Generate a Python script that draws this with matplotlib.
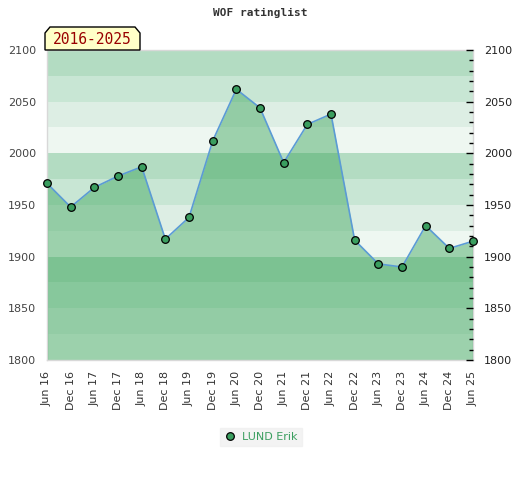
import matplotlib
matplotlib.use("Agg")
import matplotlib.pyplot as plt
from matplotlib.patches import Polygon
import numpy as np

labels = ["Jun 16", "Dec 16", "Jun 17", "Dec 17", "Jun 18", "Dec 18", "Jun 19",
          "Dec 19", "Jun 20", "Dec 20", "Jun 21", "Dec 21", "Jun 22", "Dec 22",
          "Jun 23", "Dec 23", "Jun 24", "Dec 24", "Jun 25"]
ratings = [1971, 1948, 1967, 1978, 1987, 1917, 1938, 2012, 2062, 2044, 1991,
           2028, 2038, 1916, 1893, 1890, 1930, 1908, 1915]
player = "LUND Erik"
period = "2016-2025"
title = "WOF ratinglist"

W, H = 520, 480
fig = plt.figure(figsize=(W / 100, H / 100), dpi=100)
ax = fig.add_axes([47 / W, 1 - 360 / H, (473 - 47) / W, (360 - 50) / H])

ymin, ymax = 1800, 2100
x = np.arange(len(ratings))

band_colors = ["#b3dcc2", "#c8e6d4", "#ddeee4", "#eef7f1"]
for i, lo in enumerate(range(ymax - 25, ymin - 1, -25)):
    ax.axhspan(lo, lo + 25, color=band_colors[i % 4], lw=0, zorder=0)

ax.fill_between(x, ratings, ymin, color="#39a459", alpha=0.45, lw=0, zorder=1)
ax.plot([x[0], x[0]], [ymin, ratings[0]], color="#3a9e5f", lw=1, zorder=2)
ax.plot([x[-1], x[-1]], [ymin, ratings[-1]], color="#3a9e5f", lw=1, zorder=2)
ax.plot(x, ratings, color="#5b9bd5", lw=1.2, zorder=3)
ax.plot(x, ratings, ls="none", marker="o", ms=5.5, mfc="#3a9e5f", mec="black",
        mew=0.9, zorder=4, clip_on=False)

ax.set_xlim(x[0], x[-1])
ax.set_ylim(ymin, ymax)
ax.set_xticks(x)
ax.set_xticklabels(labels, rotation=90, fontsize=8, color="#333333")
ax.tick_params(axis="x", length=0, pad=8)
ax.set_yticks(range(ymin, ymax + 1, 50))
ax.tick_params(axis="y", length=0, labelsize=8, labelcolor="#444444", pad=8)
for s in ax.spines.values():
    s.set_color("#d8d8d8")
    s.set_linewidth(1)

ax2 = ax.twinx()
ax2.set_ylim(ymin, ymax)
ax2.set_yticks(range(ymin, ymax + 1, 50))
ax2.set_yticks(range(ymin, ymax + 1, 10), minor=True)
ax2.tick_params(axis="y", which="major", direction="in", length=5, width=1,
                labelsize=8, labelcolor="#222222", pad=8, color="black")
ax2.tick_params(axis="y", which="minor", direction="in", length=3, width=1,
                color="black")
for s in ax2.spines.values():
    s.set_visible(False)

fig.text(260 / W, 1 - 13 / H, title, ha="center", va="center",
         family="DejaVu Sans Mono", fontweight="bold", fontsize=8, color="#333333")

def fpt(px, py):
    return (px / W, 1 - py / H)

box = Polygon([fpt(45, 50), fpt(45, 33), fpt(50, 27), fpt(135, 27),
               fpt(140, 33), fpt(140, 50)], closed=True,
              transform=fig.transFigure, facecolor="#ffffc8", edgecolor="black",
              lw=1, zorder=10)
fig.patches.append(box)
fig.text(92 / W, 1 - 40 / H, period, ha="center", va="center",
         family="DejaVu Sans Mono", fontsize=10.5, color="#990000", zorder=11)

leg = ax.legend([plt.Line2D([], [], ls="none", marker="o", ms=5.5, mfc="#3a9e5f",
                            mec="black", mew=0.9)], [player],
                loc="center", bbox_to_anchor=(261 / W, 1 - 437 / H),
                bbox_transform=fig.transFigure, frameon=True, fontsize=8,
                handlelength=1, handletextpad=0.6, borderpad=0.4,
                fancybox=False, labelcolor="#3a9e5f")
leg.get_frame().set_facecolor("#f0f0f0")
leg.get_frame().set_edgecolor("#f0f0f0")

fig.savefig("out.png", dpi=100)
